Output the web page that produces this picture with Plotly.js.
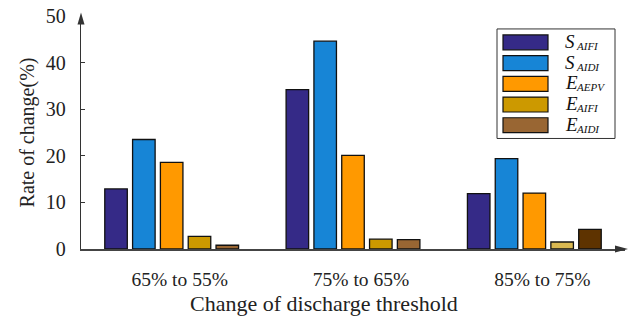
<!DOCTYPE html>
<html>
<head>
<meta charset="utf-8">
<script src="https://cdn.plot.ly/plotly-3.0.1.min.js"></script>
<style>
  html, body { margin: 0; padding: 0; background: #fff; }
  #chart { width: 636px; height: 320px; }
</style>
</head>
<body>
<div id="chart"></div>
<script>
// Threshold change groups
const categories = ['65% to 55%', '75% to 65%', '85% to 75%'];

// Rate of change (%) for each index
const sAIFI = [12.9, 34.2, 11.9];
const sAIDI = [23.5, 44.6, 19.4];
const eAEPV = [18.6, 20.1, 12.0];
const eAIFI = [2.7, 2.1, 1.5];
const eAIDI = [0.8, 2.0, 4.2];

const seriesLetters = ['S', 'S', 'E', 'E', 'E'];
const seriesSubs = ['AIFI', 'AIDI', 'AEPV', 'AIFI', 'AIDI'];
const seriesValues = [sAIFI, sAIDI, eAEPV, eAIFI, eAIDI];
const seriesColors = ['#352A87', '#1785D6', '#FF9900', '#CC9900', '#996633'];
// last group uses its own shades for the two E indices
const barColors = [
  ['#352A87', '#352A87', '#352A87'],
  ['#1785D6', '#1785D6', '#1785D6'],
  ['#FF9900', '#FF9900', '#FF9900'],
  ['#CC9900', '#CC9900', '#D9B851'],
  ['#996633', '#996633', '#5E3300']
];

const xTitle = 'Change of discharge threshold';
const yTitle = 'Rate of change(%)';

const FONT = 'Liberation Serif';

// plot area in pixels
const L = 81, R = 625, T = 15.5, B = 249.5;
const W = 636, H = 320;
const px = x => (x - L) / (R - L);
const py = y => (B - y) / (B - T);

const traces = seriesValues.map((vals, i) => ({
  type: 'bar',
  x: categories,
  y: vals,
  name: seriesLetters[i] + seriesSubs[i],
  marker: { color: barColors[i], line: { color: '#111', width: 1.3 } },
  showlegend: false,
  hoverinfo: 'x+y'
}));

const shapes = [];
const annotations = [];

// arrowheads on the axes
shapes.push({
  type: 'path', xref: 'paper', yref: 'paper',
  path: `M${px(81)},${py(12)} L${px(77.5)},${py(24)} L${px(84.5)},${py(24)} Z`,
  fillcolor: '#333', line: { width: 0 }
});
shapes.push({
  type: 'path', xref: 'paper', yref: 'paper',
  path: `M${px(628)},${py(249.5)} L${px(615)},${py(246)} L${px(615)},${py(253)} Z`,
  fillcolor: '#333', line: { width: 0 }
});

// legend box
shapes.push({
  type: 'rect', xref: 'paper', yref: 'paper',
  x0: px(497), x1: px(615), y0: py(28.5), y1: py(138.5),
  line: { color: '#333', width: 1 }, fillcolor: 'rgba(255,255,255,0)'
});
seriesLetters.forEach((letter, i) => {
  const cy = 42 + i * 20.8;
  shapes.push({
    type: 'rect', xref: 'paper', yref: 'paper',
    x0: px(503), x1: px(548), y0: py(cy - 7.5), y1: py(cy + 7.5),
    fillcolor: seriesColors[i], line: { color: '#111', width: 1.2 }
  });
  // main letter
  annotations.push({
    xref: 'paper', yref: 'paper', x: px(563), y: py(cy - 1),
    xanchor: 'left', yanchor: 'middle', showarrow: false,
    text: '<i>' + letter + '</i>', font: { family: FONT, size: 19, color: '#111' }
  });
  // subscript
  annotations.push({
    xref: 'paper', yref: 'paper', x: px(574), y: py(cy + 3.5),
    xanchor: 'left', yanchor: 'middle', showarrow: false,
    text: '<i>' + seriesSubs[i] + '</i>', font: { family: FONT, size: 11, color: '#111' }
  });
});

// x-axis title, set slightly left of the plot centre
annotations.push({
  xref: 'paper', yref: 'paper', x: px(324), y: py(304),
  xanchor: 'center', yanchor: 'middle', showarrow: false,
  text: xTitle, font: { family: FONT, size: 22, color: '#222' }
});

const layout = {
  width: W, height: H,
  margin: { l: L, r: W - R, t: T, b: H - B },
  paper_bgcolor: '#fff', plot_bgcolor: '#fff',
  barmode: 'group', bargap: 0.233, bargroupgap: 0.19,
  font: { family: FONT, color: '#222' },
  xaxis: {
    type: 'category', range: [-0.5, 2.5],
    showline: true, linecolor: '#444', linewidth: 1.6,
    ticks: '', showgrid: false, zeroline: false,
    tickfont: { family: FONT, size: 19.5, color: '#222' },
    ticklabelshift: 8, ticklabelstandoff: 12,
    fixedrange: true
  },
  yaxis: {
    range: [0, 50], tickvals: [0, 10, 20, 30, 40, 50],
    showline: true, linecolor: '#333', linewidth: 1.3,
    ticks: 'inside', ticklen: 4, tickcolor: '#333',
    showgrid: false, zeroline: false,
    tickfont: { family: FONT, size: 20, color: '#222' },
    ticklabelstandoff: 10,
    title: { text: yTitle, font: { family: FONT, size: 20, color: '#222' }, standoff: 5 },
    fixedrange: true
  },
  shapes: shapes,
  annotations: annotations,
  showlegend: false
};

Plotly.newPlot('chart', traces, layout, { displayModeBar: false, staticPlot: true });
</script>
</body>
</html>
